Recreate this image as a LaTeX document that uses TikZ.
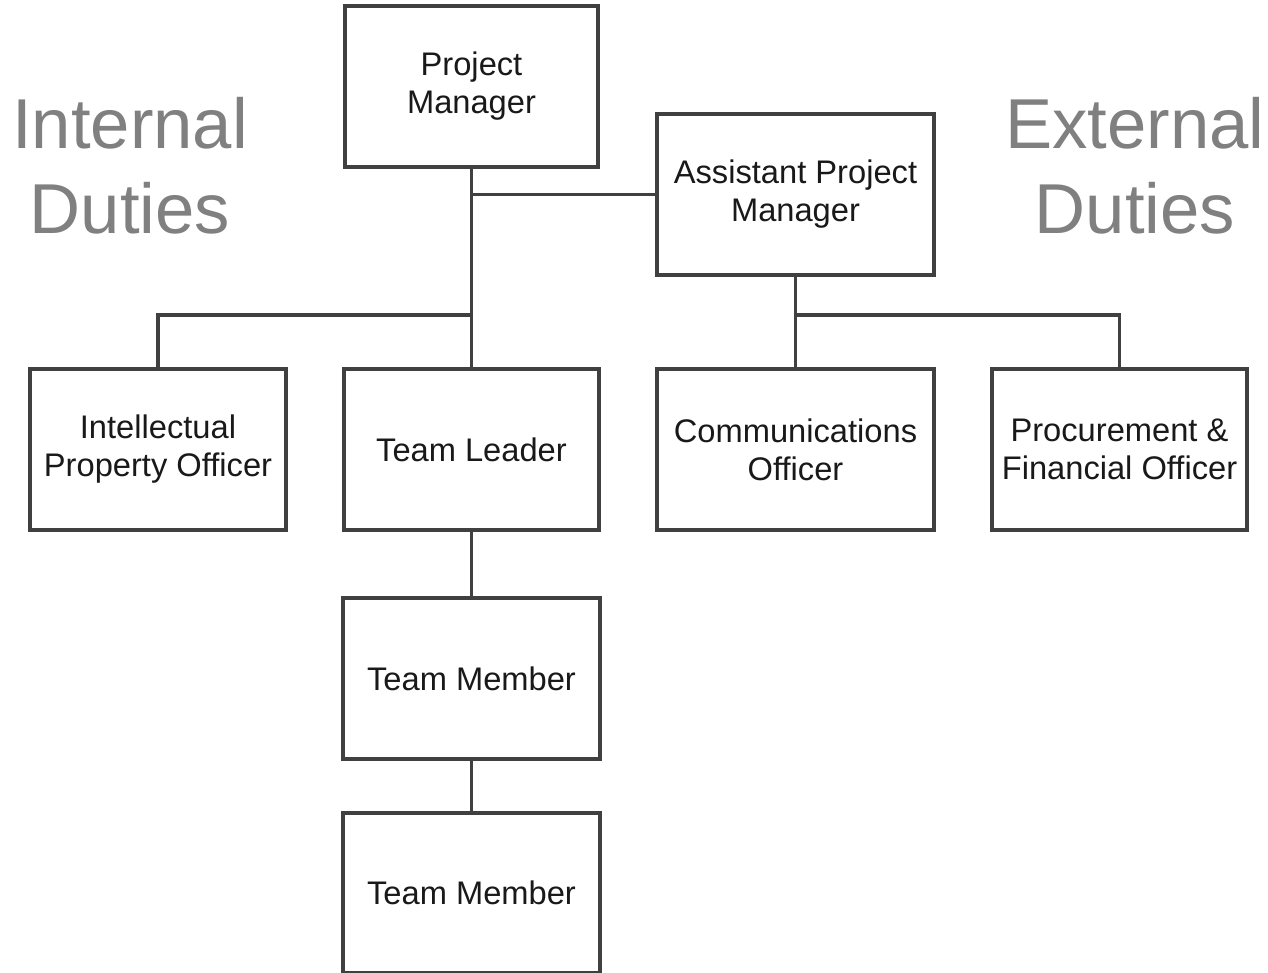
\documentclass[tikz,border=0pt]{standalone}
\usepackage{fontspec}
\setmainfont{Liberation Sans}
\definecolor{linegray}{HTML}{404040}
\definecolor{labelgray}{HTML}{808080}
\begin{document}
\begin{tikzpicture}[x=0.75pt,y=-0.75pt,
  box/.style={draw=linegray,line width=2.4pt,fill=white,inner sep=0pt,align=center,
    font=\fontsize{24.5}{28.5}\selectfont,text=black!90},
  conn/.style={draw=linegray,line width=2.4pt},
  big/.style={align=center,text=labelgray,font=\fontsize{53}{64}\selectfont}]
\useasboundingbox (0,0) rectangle (1268,972);
\begin{scope}
\clip (0,0) rectangle (1268,972);
\node[box,minimum width=253*0.75pt,minimum height=161*0.75pt] (pm) at (471.5,86.5) {Project\\Manager};
\node[box,minimum width=277*0.75pt,minimum height=161*0.75pt] (apm) at (795.5,194.5) {Assistant Project\\Manager};
\node[box,minimum width=256*0.75pt,minimum height=161*0.75pt] (ipo) at (158,449.5) {Intellectual\\Property Officer};
\node[box,minimum width=255*0.75pt,minimum height=161*0.75pt] (tl) at (471.5,449.5) {Team Leader};
\node[box,minimum width=277*0.75pt,minimum height=161*0.75pt] (co) at (795.5,449.5) {Communications\\Officer};
\node[box,minimum width=255*0.75pt,minimum height=161*0.75pt] (pfo) at (1119.5,449.5) {Procurement \&\\Financial Officer};
\node[box,minimum width=257*0.75pt,minimum height=161*0.75pt] (tm1) at (471.5,678.5) {Team Member};
\node[box,minimum width=257*0.75pt,minimum height=160*0.75pt] (tm2) at (471.5,893) {Team Member};
\coordinate (j1) at (471.5,194.5);
\coordinate (j2) at (471.5,315);
\coordinate (j3) at (795.5,315);
\draw[conn] (pm.south) -- (tl.north);
\draw[conn] (j1) -- (apm.west);
\draw[conn] (j2) -| (ipo.north);
\draw[conn] (apm.south) -- (co.north);
\draw[conn] (j3) -| (pfo.north);
\draw[conn] (tl.south) -- (tm1.north);
\draw[conn] (tm1.south) -- (tm2.north);
\end{scope}
\node[big] (internal) at (130,166) {Internal\\Duties};
\node[big] (external) at (1135,166) {External\\Duties};
\end{tikzpicture}
\end{document}
